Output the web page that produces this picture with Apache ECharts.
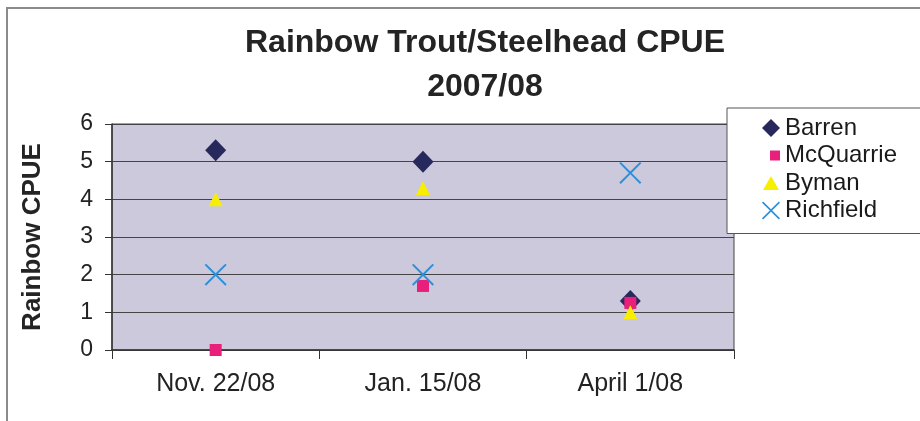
<!DOCTYPE html>
<html>
<head>
<meta charset="utf-8">
<script src="https://cdn.jsdelivr.net/npm/echarts@6/dist/echarts.min.js"></script>
<style>
  html, body { margin: 0; padding: 0; background: #ffffff; }
  #chart { width: 920px; height: 421px; }
</style>
</head>
<body>
<div id="chart"></div>
<script>
// Sampling dates (x categories)
const categories = ['Nov. 22/08', 'Jan. 15/08', 'April 1/08'];

// Catch per unit effort by site
const barren     = [5.3, 5.0, 1.3];
const mcquarrie  = [0, 1.7, 1.25];
const byman      = [4.0, 4.3, 1.0];
const richfield  = [2.0, 2.0, 4.7];

// Y axis ticks
const yTicks = [0, 1, 2, 3, 4, 5, 6];

const FONT = '"Liberation Sans", Arial, Helvetica, sans-serif';

// Thin "X" cross drawn as a filled outline
const crossPath = 'path://M0,1.4L1.4,0L11,9.6L20.6,0L22,1.4L12.4,11L22,20.6L20.6,22L11,12.4L1.4,22L0,20.6L9.6,11Z';
// Legend icons padded inside an 18x18 box so they keep their own sizes
const legendSquare = 'path://M0,0M18,18M8,4L18,4L18,14L8,14Z';
const legendTriangle = 'path://M0,0M18,18M9,2L17,16L1,16Z';

const chart = echarts.init(document.getElementById('chart'), null, { renderer: 'canvas' });

chart.setOption({
  animation: false,
  backgroundColor: '#ffffff',
  textStyle: { fontFamily: FONT },
  graphic: [{
    type: 'rect',
    shape: { x: 7, y: 8, width: 1000, height: 1000 },
    style: { fill: 'none', stroke: '#8a8a8a', lineWidth: 2 },
    z: 100
  }],
  title: {
    text: 'Rainbow Trout/Steelhead CPUE\n2007/08',
    left: 485,
    top: 21,
    textAlign: 'center',
    padding: 0,
    textStyle: {
      fontFamily: FONT,
      fontSize: 32,
      fontWeight: 'bold',
      color: '#242424',
      lineHeight: 44
    }
  },
  legend: {
    orient: 'vertical',
    left: 727,
    top: 108,
    padding: [8, 40, 11, 35],
    itemGap: 3.5,
    itemWidth: 18,
    itemHeight: 18,
    backgroundColor: '#ffffff',
    borderColor: '#555555',
    borderWidth: 1,
    borderRadius: 0,
    z: 10,
    textStyle: { fontFamily: FONT, fontSize: 24, color: '#1a1a1a', lineHeight: 24 },
    data: [
      { name: 'Barren', icon: 'diamond' },
      { name: 'McQuarrie', icon: legendSquare },
      { name: 'Byman', icon: legendTriangle },
      { name: 'Richfield', icon: crossPath }
    ]
  },
  grid: {
    left: 112,
    right: 186,
    top: 124,
    bottom: 71,
    show: true,
    backgroundColor: '#cbc9db',
    borderColor: '#444444',
    borderWidth: 1
  },
  xAxis: {
    type: 'category',
    data: categories,
    boundaryGap: true,
    axisLine: { show: true, lineStyle: { color: '#333333', width: 1.5 } },
    axisTick: { show: true, length: 9, lineStyle: { color: '#333333' } },
    axisLabel: { fontFamily: FONT, fontSize: 25, color: '#222222', margin: 22 },
    splitLine: { show: false }
  },
  yAxis: {
    type: 'value',
    min: yTicks[0],
    max: yTicks[yTicks.length - 1],
    interval: 1,
    name: 'Rainbow CPUE',
    nameLocation: 'middle',
    nameGap: 66,
    nameTextStyle: { fontFamily: FONT, fontSize: 26, fontWeight: 'bold', color: '#242424' },
    axisLine: { show: true, lineStyle: { color: '#333333', width: 1.5 } },
    axisTick: { show: true, length: 7, lineStyle: { color: '#333333' } },
    axisLabel: { fontFamily: FONT, fontSize: 23, color: '#222222', margin: 19 },
    splitLine: { show: true, lineStyle: { color: '#444444', width: 1 } }
  },
  series: [
    {
      name: 'Barren', type: 'scatter', data: barren,
      symbol: 'diamond', symbolSize: [21, 22],
      itemStyle: { color: '#27285c', opacity: 1 }
    },
    {
      name: 'McQuarrie', type: 'scatter', data: mcquarrie,
      symbol: 'rect', symbolSize: 12,
      itemStyle: { color: '#e8207c', opacity: 1 }
    },
    {
      name: 'Byman', type: 'scatter', data: byman,
      symbol: 'triangle', symbolSize: 14,
      itemStyle: { color: '#f7ee00', opacity: 1 }
    },
    {
      name: 'Richfield', type: 'scatter', data: richfield,
      symbol: crossPath, symbolSize: 22,
      itemStyle: { color: '#2b90da', opacity: 1 }
    }
  ]
});
</script>
</body>
</html>
